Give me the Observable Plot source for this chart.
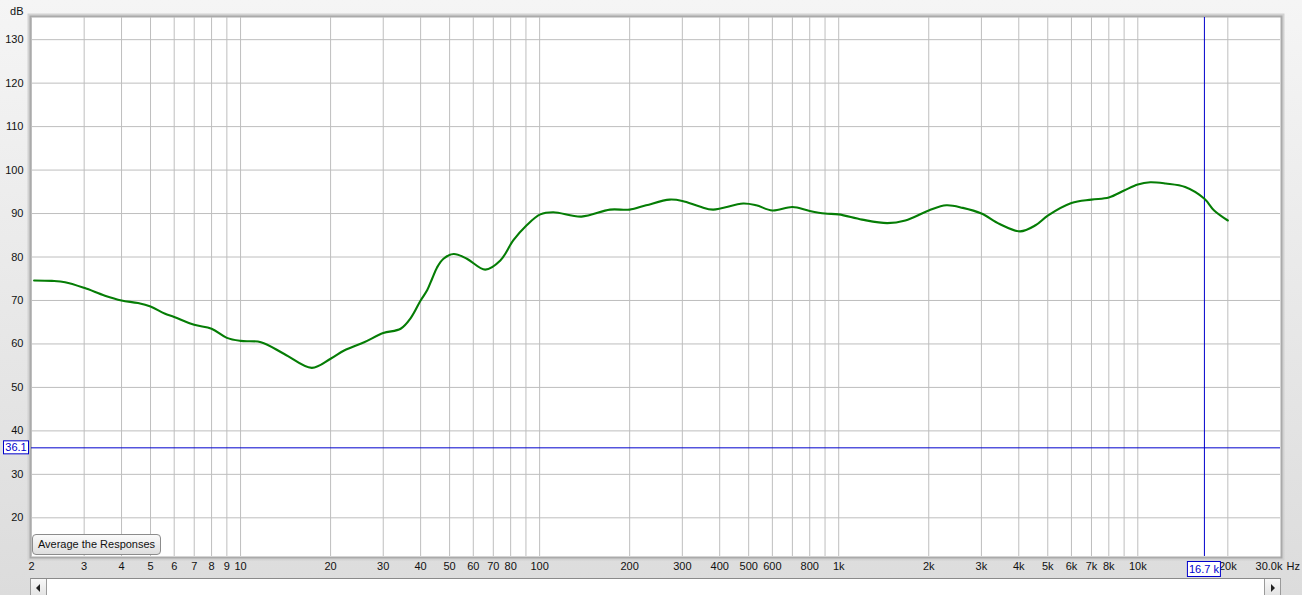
<!DOCTYPE html>
<html>
<head>
<meta charset="utf-8">
<script src="https://cdn.jsdelivr.net/npm/d3@7"></script>
<script src="https://cdn.jsdelivr.net/npm/@observablehq/plot@0.6"></script>
<style>
  html, body { margin: 0; padding: 0; overflow: hidden; background: #e6e6e6; }
  #wrap { position: relative; width: 1302px; height: 595px; font-family: "Liberation Sans", Arial, sans-serif; }
  #btn { position: absolute; left: 32px; top: 534px; width: 127px; height: 19px; border: 1px solid #8c8c8c; border-radius: 4px;
         background: linear-gradient(#fbfbfb, #dedede); font-size: 11px; line-height: 19px; text-align: center; color: #111; }
  #scroll { position: absolute; left: 30px; top: 578px; width: 1251px; height: 17px; border-top: 1px solid #8a8a8a;
            border-left: 1px solid #9a9a9a; border-right: 1px solid #9a9a9a; background: #fff; box-sizing: border-box; }
  .arr { position: absolute; top: 0; width: 15px; height: 16px; background: linear-gradient(#f8f8f8, #e4e4e4); }
  .arr.l { left: 0; border-right: 1px solid #9a9a9a; }
  .arr.r { right: 0; border-left: 1px solid #9a9a9a; }
  .tri { position: absolute; top: 5px; width: 0; height: 0; border-top: 4px solid transparent; border-bottom: 4px solid transparent; }
  .arr.l .tri { left: 5px; border-right: 4px solid #222; }
  .arr.r .tri { left: 6px; border-left: 4px solid #222; }
</style>
</head>
<body>
<div id="wrap"></div>
<script>
// Frequency response (Hz) and level (dB)
const freqHz = [2.04, 2.34, 2.59, 3.0, 3.52, 4.0, 4.54, 5.0, 5.57, 6.0, 7.0, 8.0, 9.0, 10.0, 11.7, 14.0, 17.3, 20.0, 22.2, 25.9,
  30.0, 34.3, 37.1, 40.0, 42.1, 43.7, 45.4, 47.7, 51.6, 57.1, 65.8, 73.9, 81.6, 90.5, 100.5, 111, 138, 172, 200, 227, 272, 300,
  343, 380, 479, 530, 600, 700, 800, 900, 1000, 1197, 1453, 1670, 2000, 2290, 2600, 3000, 3450, 4040, 4550, 5000,
  6000, 7000, 8000, 9000, 10000, 11000, 12400, 14400, 16700, 18000, 20000];
const levelDb = [74.6, 74.5, 74.2, 72.9, 71.1, 70.0, 69.4, 68.6, 67.0, 66.2, 64.4, 63.5, 61.4, 60.7, 60.4, 57.7, 54.5, 56.6, 58.5, 60.4,
  62.5, 63.5, 66.0, 70.0, 72.4, 75.0, 77.6, 79.6, 80.7, 79.6, 77.1, 79.2, 83.8, 87.3, 89.8, 90.3, 89.3, 90.9, 90.9, 91.9, 93.2, 92.9,
  91.6, 90.9, 92.3, 91.9, 90.7, 91.5, 90.6, 90.0, 89.8, 88.6, 87.8, 88.4, 90.7, 91.9, 91.3, 90.0, 87.6, 85.9, 87.3, 89.5,
  92.4, 93.2, 93.7, 95.3, 96.7, 97.2, 96.9, 96.1, 93.4, 90.7, 88.4];

// Axes
const yTicks = [20, 30, 40, 50, 60, 70, 80, 90, 100, 110, 120, 130];
const xGrid = [2, 3, 4, 5, 6, 7, 8, 9, 10, 20, 30, 40, 50, 60, 70, 80, 90, 100, 200, 300, 400, 500, 600, 700, 800, 900,
  1000, 2000, 3000, 4000, 5000, 6000, 7000, 8000, 9000, 10000, 20000];
const xTickLabels = [2, 3, 4, 5, 6, 7, 8, 9, 10, 20, 30, 40, 50, 60, 70, 80, 100, 200, 300, 400, 500, 600, 800,
  1000, 2000, 3000, 4000, 5000, 6000, 7000, 8000, 10000, 20000];
const xEnd = 30000;
const xEndLabel = "30.0k";
const unitX = "Hz";
const unitY = "dB";
const cursorHz = 16700, cursorLabelX = "16.7 k";
const cursorDb = 36.1, cursorLabelY = "36.1";
const buttonText = "Average the Responses";

const data = freqHz.map((f, i) => ({f, db: levelDb[i]}));
const fmt = v => v >= 1000 ? (v / 1000) + "k" : String(v);
const blue = "#0000cc";

const plot = Plot.plot({
  width: 1302, height: 595,
  marginLeft: 31, marginRight: 22, marginTop: 17, marginBottom: 39,
  style: {background: "linear-gradient(#f5f5f5, #dcdcdc)", fontFamily: "'Liberation Sans', Arial, sans-serif", fontSize: "11px", color: "#111", overflow: "visible"},
  x: {type: "log", domain: [2, 30000], axis: null},
  y: {domain: [11.1, 135.1], axis: null},
  marks: [
    Plot.frame({fill: "#d2d2d2", inset: -4}),
    Plot.frame({fill: "#aaaaaa", inset: -2}),
    Plot.frame({fill: "white"}),
    Plot.gridX({ticks: xGrid, stroke: "#bebebe", strokeOpacity: 1}),
    Plot.gridY({ticks: yTicks, stroke: "#bebebe", strokeOpacity: 1}),
    Plot.ruleX([cursorHz], {stroke: blue}),
    Plot.ruleY([cursorDb], {stroke: blue}),
    Plot.line(data, {x: "f", y: "db", stroke: "#057d05", strokeWidth: 2.1, curve: "catmull-rom"}),
    Plot.text(yTicks, {y: d => d, frameAnchor: "left", dx: -8, textAnchor: "end", fill: "#111"}),
    Plot.text(xTickLabels, {x: d => d, text: fmt, frameAnchor: "bottom", dy: 13, fill: "#111"}),
    Plot.text([xEndLabel], {x: () => xEnd, frameAnchor: "bottom", dy: 13, dx: 2, textAnchor: "end", fill: "#111"}),
    Plot.text([unitX], {x: () => xEnd, frameAnchor: "bottom", dy: 13, dx: 6, textAnchor: "start", fill: "#111"}),
    Plot.text([unitY], {frameAnchor: "top-left", dx: -8, dy: -10, textAnchor: "end", fill: "#111"})
  ]
});

// cursor value boxes, positioned through the plot's scales
const sx = plot.scale("x"), sy = plot.scale("y");
const svg = d3.select(plot);
const cx = sx.apply(cursorHz), cy = sy.apply(cursorDb);
const gx = svg.append("g");
gx.append("rect").attr("x", cx - 16.5).attr("y", 561.5).attr("width", 33).attr("height", 15)
  .attr("fill", "white").attr("stroke", blue);
gx.append("text").attr("x", cx).attr("y", 569).attr("dy", "0.35em").attr("text-anchor", "middle")
  .attr("fill", blue).attr("font-size", 11).text(cursorLabelX);
const gy = svg.append("g");
gy.append("rect").attr("x", 3.5).attr("y", cy - 6.5).attr("width", 25).attr("height", 13)
  .attr("fill", "white").attr("stroke", blue);
gy.append("text").attr("x", 16).attr("y", cy).attr("dy", "0.35em").attr("text-anchor", "middle")
  .attr("fill", blue).attr("font-size", 11).text(cursorLabelY);

const wrap = document.getElementById("wrap");
wrap.appendChild(plot);
const btn = document.createElement("div");
btn.id = "btn"; btn.textContent = buttonText;
wrap.appendChild(btn);
const sc = document.createElement("div");
sc.id = "scroll";
sc.innerHTML = '<div class="arr l"><div class="tri"></div></div><div class="arr r"><div class="tri"></div></div>';
wrap.appendChild(sc);
</script>
</body>
</html>
